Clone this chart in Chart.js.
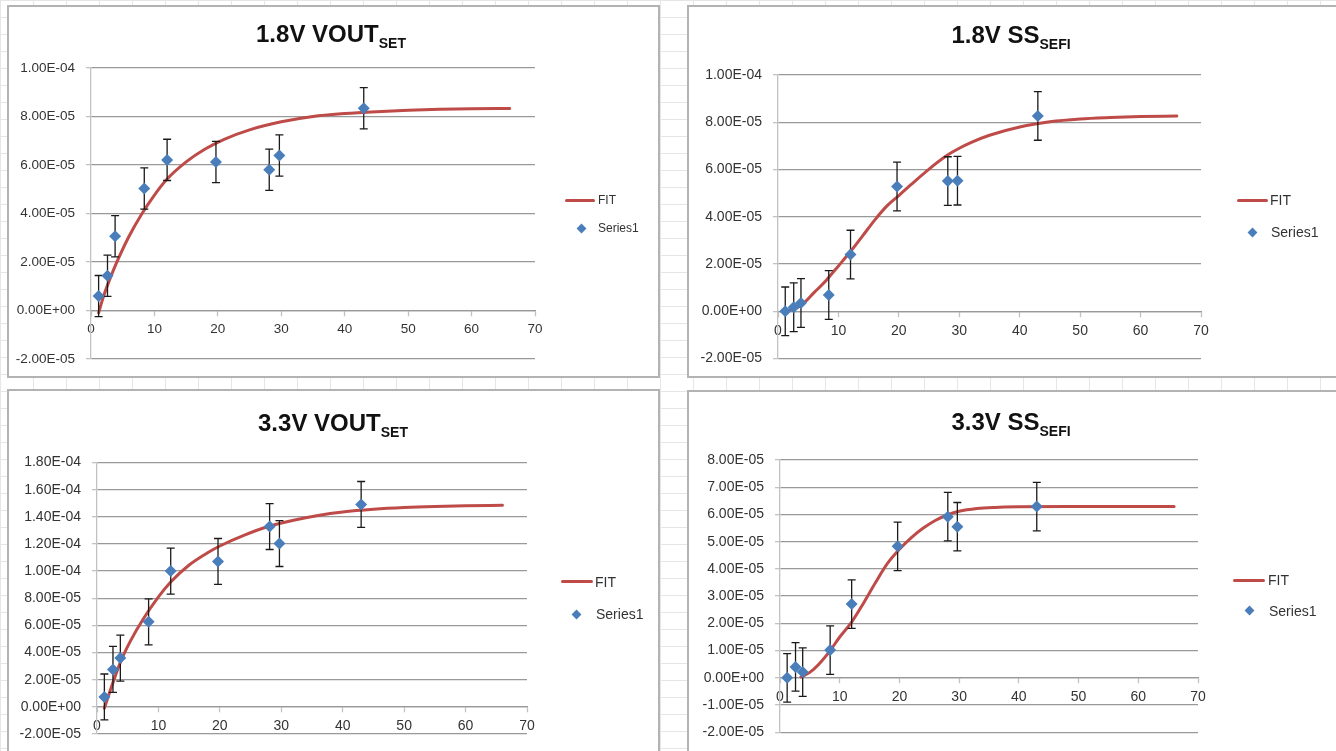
<!DOCTYPE html>
<html>
<head>
<meta charset="utf-8">
<script src="https://cdn.jsdelivr.net/npm/chart.js@4.4.1/dist/chart.umd.min.js"></script>
<style>
  html, body { margin: 0; padding: 0; }
  body {
    width: 1336px; height: 751px; overflow: hidden; position: relative;
    background-color: #fff;
    background-image: linear-gradient(#e6e6e6 1px, transparent 1px),
                      linear-gradient(90deg, #e6e6e6 1px, transparent 1px);
    background-size: 33px 17px;
    font-family: "Liberation Sans", Arial, sans-serif;
  }
  .frame { position: absolute; background: #fff; border: 2px solid #b3b3b3; box-sizing: border-box; }
  .box { position: absolute; }
  .title {
    position: absolute; transform: translateX(-50%);
    font-weight: bold; font-size: 24px; line-height: 24px; color: #111; white-space: nowrap;
  }
  .title span { font-size: 14px; position: relative; top: 6px; }
  .leg { position: absolute; font-size: 14px; line-height: 16px; color: #333; white-space: nowrap; }
  .leg.small { font-size: 12px; line-height: 14px; }
  .legline { position: absolute; height: 3px; background: #be4b48; border-radius: 1.5px; }
  .legdia { position: absolute; width: 7px; height: 7px; background: #4a7ebb; transform: rotate(45deg); }
</style>
</head>
<body>

<div class="frame" style="left:7px;top:5px;width:653px;height:373px"></div>
<div class="frame" style="left:687px;top:5px;width:653px;height:373px"></div>
<div class="frame" style="left:7px;top:389px;width:653px;height:371px"></div>
<div class="frame" style="left:687px;top:390px;width:653px;height:370px"></div>

<div class="box" style="left:7px;top:5px;width:653px;height:373px"><canvas id="c1"></canvas></div>
<div class="box" style="left:687px;top:5px;width:653px;height:373px"><canvas id="c2"></canvas></div>
<div class="box" style="left:7px;top:389px;width:653px;height:371px"><canvas id="c3"></canvas></div>
<div class="box" style="left:687px;top:390px;width:653px;height:370px"><canvas id="c4"></canvas></div>

<div class="title" style="left:331px;top:22px">1.8V VOUT<span>SET</span></div>
<div class="title" style="left:1011px;top:23px">1.8V SS<span>SEFI</span></div>
<div class="title" style="left:333px;top:411px">3.3V VOUT<span>SET</span></div>
<div class="title" style="left:1011px;top:410px">3.3V SS<span>SEFI</span></div>

<!-- legends -->
<div class="legline" style="left:565px;top:198.5px;width:30px"></div>
<div class="leg small" style="left:598px;top:193px">FIT</div>
<div class="legdia" style="left:577.5px;top:224.5px"></div>
<div class="leg small" style="left:598px;top:221px">Series1</div>

<div class="legline" style="left:1237px;top:198.5px;width:31px"></div>
<div class="leg" style="left:1270px;top:192px">FIT</div>
<div class="legdia" style="left:1248.5px;top:228.5px"></div>
<div class="leg" style="left:1271px;top:224px">Series1</div>

<div class="legline" style="left:561px;top:580px;width:32px"></div>
<div class="leg" style="left:595px;top:573.5px">FIT</div>
<div class="legdia" style="left:573px;top:610.5px"></div>
<div class="leg" style="left:596px;top:606px">Series1</div>

<div class="legline" style="left:1233px;top:578.5px;width:32px"></div>
<div class="leg" style="left:1268px;top:572px">FIT</div>
<div class="legdia" style="left:1245.5px;top:607px"></div>
<div class="leg" style="left:1269px;top:602.5px">Series1</div>

<script>
// x of the nine measured points, same in all four charts
const pointX = [1.2, 2.6, 3.8, 8.4, 12, 19.7, 28.1, 29.7, 43];

// 1.8V VOUT SET
const vout18Y   = [5.9e-6, 1.43e-5, 3.06e-5, 5.03e-5, 6.21e-5, 6.12e-5, 5.80e-5, 6.39e-5, 8.34e-5];
const vout18Err = [8.5e-6, 8.5e-6, 8.5e-6, 8.5e-6, 8.5e-6, 8.5e-6, 8.5e-6, 8.5e-6, 8.5e-6];
const vout18FitX = [1.2, 2, 3, 4, 6, 8, 10, 12, 15, 18, 21, 25, 30, 35, 40, 45, 50, 55, 60, 66];
const vout18FitY = [-1e-6, 6e-6, 1.31e-5, 1.95e-5, 3.06e-5, 3.98e-5, 4.76e-5, 5.42e-5, 6.13e-5, 6.66e-5,
                    7.06e-5, 7.45e-5, 7.78e-5, 8.0e-5, 8.12e-5, 8.2e-5, 8.26e-5, 8.3e-5, 8.32e-5, 8.33e-5];

// 1.8V SS SEFI
const ss18Y   = [0, 1.7e-6, 3.5e-6, 6.9e-6, 2.40e-5, 5.28e-5, 5.51e-5, 5.53e-5, 8.27e-5];
const ss18Err = [1.03e-5, 1.03e-5, 1.03e-5, 1.03e-5, 1.03e-5, 1.03e-5, 1.03e-5, 1.03e-5, 1.03e-5];
const ss18FitX = [1.2, 3.8, 6, 8, 10, 12, 14, 16, 18, 20, 22, 25, 28, 30, 32, 35, 40, 45, 50, 55, 60, 66];
const ss18FitY = [0, 2.5e-6, 8e-6, 1.32e-5, 1.92e-5, 2.53e-5, 3.19e-5, 3.86e-5, 4.45e-5, 4.9e-5, 5.36e-5,
                  6.02e-5, 6.6e-5, 6.9e-5, 7.15e-5, 7.45e-5, 7.8e-5, 8.02e-5, 8.14e-5, 8.2e-5, 8.24e-5, 8.26e-5];

// 3.3V VOUT SET
const vout33Y   = [7.3e-6, 2.76e-5, 3.59e-5, 6.26e-5, 1.0e-4, 1.071e-4, 1.328e-4, 1.203e-4, 1.491e-4];
const vout33Err = [1.69e-5, 1.69e-5, 1.69e-5, 1.69e-5, 1.69e-5, 1.69e-5, 1.69e-5, 1.69e-5, 1.69e-5];
const vout33FitX = [1.2, 2, 3, 4, 5.5, 7.5, 10, 12, 15, 18, 20, 24, 28, 32, 36, 40, 45, 50, 55, 60, 66];
const vout33FitY = [-1e-6, 1.0e-5, 2.3e-5, 3.5e-5, 4.9e-5, 6.45e-5, 8.1e-5, 9.2e-5, 1.045e-4, 1.135e-4, 1.185e-4,
                    1.265e-4, 1.33e-4, 1.375e-4, 1.41e-4, 1.435e-4, 1.455e-4, 1.468e-4, 1.476e-4, 1.481e-4, 1.485e-4];

// 3.3V SS SEFI
const ss33Y   = [0, 4.0e-6, 2.1e-6, 1.02e-5, 2.71e-5, 4.83e-5, 5.92e-5, 5.55e-5, 6.29e-5];
const ss33Err = [8.9e-6, 8.9e-6, 8.9e-6, 8.9e-6, 8.9e-6, 8.9e-6, 8.9e-6, 8.9e-6, 8.9e-6];
const ss33FitX = [3.5, 5, 6.5, 8.4, 10, 12, 14, 16, 18, 20, 22, 24, 26, 28, 30, 33, 36, 40, 50, 66];
const ss33FitY = [3e-7, 2e-6, 5e-6, 1.0e-5, 1.5e-5, 2.05e-5, 2.75e-5, 3.5e-5, 4.2e-5, 4.72e-5,
                  5.15e-5, 5.5e-5, 5.78e-5, 5.98e-5, 6.12e-5, 6.22e-5, 6.26e-5, 6.28e-5, 6.29e-5, 6.29e-5];

// axis ticks
const xTicks = [0, 10, 20, 30, 40, 50, 60, 70];
const xTickLabels = ['0', '10', '20', '30', '40', '50', '60', '70'];
const yTicks18 = [-2e-5, 0, 2e-5, 4e-5, 6e-5, 8e-5, 1e-4];
const yLabels18 = ['-2.00E-05', '0.00E+00', '2.00E-05', '4.00E-05', '6.00E-05', '8.00E-05', '1.00E-04'];
const yTicksVout33 = [-2e-5, 0, 2e-5, 4e-5, 6e-5, 8e-5, 1e-4, 1.2e-4, 1.4e-4, 1.6e-4, 1.8e-4];
const yLabelsVout33 = ['-2.00E-05', '0.00E+00', '2.00E-05', '4.00E-05', '6.00E-05', '8.00E-05',
                       '1.00E-04', '1.20E-04', '1.40E-04', '1.60E-04', '1.80E-04'];
const yTicksSs33 = [-2e-5, -1e-5, 0, 1e-5, 2e-5, 3e-5, 4e-5, 5e-5, 6e-5, 7e-5, 8e-5];
const yLabelsSs33 = ['-2.00E-05', '-1.00E-05', '0.00E+00', '1.00E-05', '2.00E-05', '3.00E-05',
                     '4.00E-05', '5.00E-05', '6.00E-05', '7.00E-05', '8.00E-05'];

const RED = '#be4b48';
const BLUE = '#4a7ebb';
const GRID = '#999';
const AXIS = '#c2c2c2';
const TEXT = '#333';

// frame = canvas box on the page, plot = plot area on the page
const panels = [
  { id: 'c1', y: vout18Y, err: vout18Err, fitX: vout18FitX, fitY: vout18FitY, yTicks: yTicks18, yLabels: yLabels18,
    font: 13.5, frame: { l: 7, t: 5, r: 660, b: 378 }, plot: { l: 91, t: 68, r: 535, b: 359 } },
  { id: 'c2', y: ss18Y, err: ss18Err, fitX: ss18FitX, fitY: ss18FitY, yTicks: yTicks18, yLabels: yLabels18,
    font: 14, frame: { l: 687, t: 5, r: 1340, b: 378 }, plot: { l: 778, t: 75, r: 1201, b: 359 } },
  { id: 'c3', y: vout33Y, err: vout33Err, fitX: vout33FitX, fitY: vout33FitY, yTicks: yTicksVout33, yLabels: yLabelsVout33,
    font: 14, frame: { l: 7, t: 389, r: 660, b: 760 }, plot: { l: 97, t: 462.5, r: 527, b: 734 } },
  { id: 'c4', y: ss33Y, err: ss33Err, fitX: ss33FitX, fitY: ss33FitY, yTicks: yTicksSs33, yLabels: yLabelsSs33,
    font: 14, frame: { l: 687, t: 390, r: 1340, b: 760 }, plot: { l: 780, t: 460, r: 1198, b: 732.3 } }
];

// error bars go on after the FIT line is drawn and before the diamonds
const errorBars = {
  id: 'errorBars',
  afterDatasetDraw(chart, args) {
    if (args.index !== 0) return;
    const ds = chart.data.datasets[1];
    const xs = chart.scales.x, ys = chart.scales.y;
    const ctx = chart.ctx;
    ctx.save();
    ctx.strokeStyle = '#1a1a1a';
    ctx.lineWidth = 1.3;
    ds.data.forEach((pt, i) => {
      const px = xs.getPixelForValue(pt.x);
      const hi = ys.getPixelForValue(pt.y + ds.yErr[i]);
      const lo = ys.getPixelForValue(pt.y - ds.yErr[i]);
      ctx.beginPath();
      ctx.moveTo(px, hi); ctx.lineTo(px, lo);
      ctx.moveTo(px - 4, hi); ctx.lineTo(px + 4, hi);
      ctx.moveTo(px - 4, lo); ctx.lineTo(px + 4, lo);
      ctx.stroke();
    });
    ctx.restore();
  }
};

function makeChart(p) {
  const fitData = p.fitX.map((x, i) => ({ x: x, y: p.fitY[i] }));
  const ptData = pointX.map((x, i) => ({ x: x, y: p.y[i] }));
  const tickFont = { family: '"Liberation Sans", Arial, sans-serif', size: p.font };
  new Chart(document.getElementById(p.id), {
    type: 'scatter',
    data: {
      datasets: [
        { label: 'FIT', data: fitData, showLine: true, pointRadius: 0, borderColor: RED, borderWidth: 3,
          cubicInterpolationMode: 'monotone', borderCapStyle: 'round', order: 1 },
        { label: 'Series1', data: ptData, yErr: p.err, pointStyle: 'rectRot', pointRadius: 6,
          backgroundColor: BLUE, borderColor: BLUE, borderWidth: 0, order: 0 }
      ]
    },
    options: {
      responsive: true,
      maintainAspectRatio: false,
      animation: false,
      layout: { padding: { left: 0, top: p.plot.t - p.frame.t, right: p.frame.r - p.plot.r, bottom: p.frame.b - p.plot.b } },
      plugins: { legend: { display: false }, tooltip: { enabled: false } },
      scales: {
        x: {
          type: 'linear', position: { y: 0 }, min: 0, max: 70,
          afterBuildTicks: s => { s.ticks = xTicks.map(v => ({ value: v })); },
          afterFit: s => { s.height = 0; },
          ticks: { callback: (v, i) => xTickLabels[i], maxRotation: 0, autoSkip: false, padding: 6, color: TEXT, font: tickFont },
          grid: { drawOnChartArea: false, tickColor: AXIS, tickLength: 5, tickWidth: 1.3 },
          border: { color: GRID, width: 1.3 }
        },
        y: {
          type: 'linear', min: p.yTicks[0], max: p.yTicks[p.yTicks.length - 1],
          afterBuildTicks: s => { s.ticks = p.yTicks.map(v => ({ value: v })); },
          afterFit: s => { s.width = p.plot.l - p.frame.l; },
          ticks: { callback: (v, i) => p.yLabels[i], autoSkip: false, padding: 11, color: TEXT, font: tickFont },
          grid: { color: GRID, lineWidth: 1.3, tickColor: AXIS, tickLength: 5, tickWidth: 1.3 },
          border: { color: AXIS, width: 1.3 }
        }
      }
    },
    plugins: [errorBars]
  });
}

panels.forEach(makeChart);
</script>
</body>
</html>
